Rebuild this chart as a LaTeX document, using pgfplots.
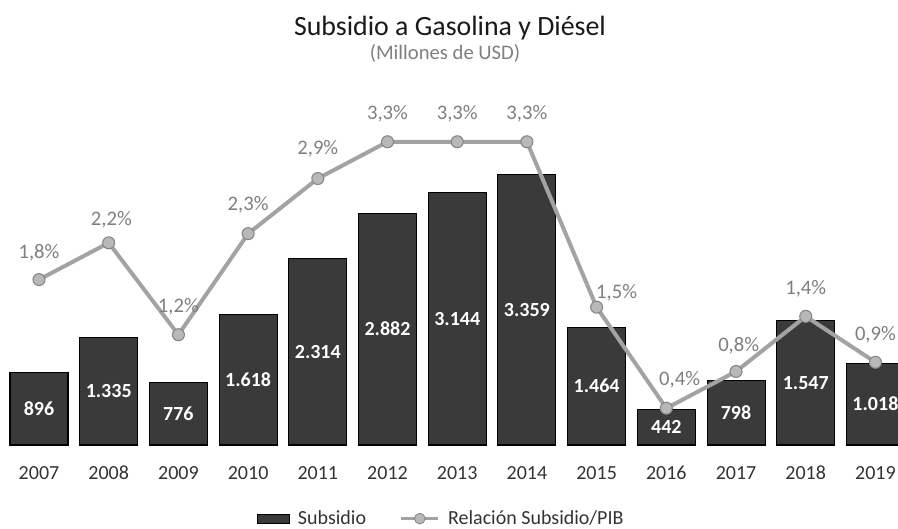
\documentclass[border=0pt]{standalone}
\usepackage{pgfplots}
\pgfplotsset{compat=1.18}
\usepackage{pgfplotstable}
\usepackage{fontspec}
\setmainfont{Carlito}
\definecolor{barc}{HTML}{3A3A3A}
\definecolor{linec}{HTML}{A3A3A3}
\definecolor{markc}{HTML}{B8B8B8}
\definecolor{markd}{HTML}{858585}
\definecolor{pctc}{HTML}{7F7F7F}
\definecolor{tickc}{HTML}{333333}

\pgfplotstableread{
x v lab
0 896 896
1 1335 1.335
2 776 776
3 1618 1.618
4 2314 2.314
5 2882 2.882
6 3144 3.144
7 3359 3.359
8 1464 1.464
9 442 442
10 798 798
11 1547 1.547
12 1018 1.018
}\bars

\pgfplotstableread{
x p lab dx dy
0 1.8 {1,8\%} 0 20
1 2.2 {2,2\%} 2 17
2 1.2 {1,2\%} 0 21
3 2.3 {2,3\%} 0 22
4 2.9 {2,9\%} 0 22
5 3.3 {3,3\%} 0 21
6 3.3 {3,3\%} 0 21
7 3.3 {3,3\%} 0 21
8 1.5 {1,5\%} 15 11
9 0.4 {0,4\%} 10 21
10 0.8 {0,8\%} 2 19
11 1.4 {1,4\%} 0 21
12 0.9 {0,9\%} 0 21
}\pct

\begin{document}
\begin{tikzpicture}
\pgfplotsset{
  common/.style={
    scale only axis,
    width=679.6pt, height=241.2pt,
    at={(3.11pt,62.25pt)}, anchor=south west,
    xmin=-0.5, xmax=12.5,
    clip=false,
  }
}
\begin{axis}[
  common,
  ymin=0, ymax=4000,
  axis line style={draw=none},
  ymajorticks=false,
  xtick={0,...,12},
  xticklabels={2007,2008,2009,2010,2011,2012,2013,2014,2015,2016,2017,2018,2019},
  major tick length=0pt,
  xticklabel style={anchor=base, yshift=-25.5pt, font=\fontsize{15}{15}\selectfont, text=tickc},
]
\addplot[ybar, bar width=43.5pt, fill=barc, draw=black, line width=0.8pt] table[x=x, y=v] {\bars};
\addplot[draw=none, mark=none, nodes near coords, point meta=explicit symbolic,
  every node near coord/.append style={anchor=center, font=\bfseries\fontsize{15}{15}\selectfont, text=white}]
  table[x=x, y expr=\thisrow{v}/2, meta=lab] {\bars};
\end{axis}
\begin{axis}[
  common,
  ymin=0, ymax=3.5,
  hide axis,
  legend columns=2,
  legend style={draw=none, fill=none, at={(axis description cs:0.483,-0.229)}, anchor=center,
    font=\fontsize{15}{15}\selectfont, text=tickc,
    /tikz/every odd column/.append style={column sep=4pt},
    /tikz/every even column/.append style={column sep=23pt}},
]
\addlegendimage{legend image code/.code={\draw[fill=barc, draw=black] (0pt,-3.5pt) rectangle (24pt,3.5pt);}}
\addlegendentry{Subsidio}
\addplot[linec, line width=3pt, mark=*, mark size=4.5pt,
  mark options={fill=markc, draw=markd, line width=0.8pt},
  nodes near coords, point meta=explicit symbolic,
  visualization depends on={\thisrow{dx}\as\dx},
  visualization depends on={\thisrow{dy}\as\dy},
  every node near coord/.append style={anchor=center, font=\fontsize{15.5}{15.5}\selectfont, text=pctc, xshift=\dx*1pt, yshift=\dy*1pt},
  legend image code/.code={\draw[linec, line width=2.5pt] (0pt,0pt) -- (28pt,0pt); \draw[fill=markc, draw=markd, line width=0.6pt] (14pt,0pt) circle (4pt);}
] table[x=x, y=p, meta=lab] {\pct};
\addlegendentry{Relación Subsidio/PIB}
\end{axis}
\node[anchor=base, font=\fontsize{20.9}{24}\selectfont, text=black!90] at (337.5pt,369pt) {Subsidio a Gasolina y Diésel};
\node[anchor=base, font=\fontsize{15.5}{17}\selectfont, text=pctc] at (333.75pt,351pt) {(Millones de USD)};
\pgfresetboundingbox
\path[use as bounding box] (0pt,0pt) rectangle (673.5pt,396pt);
\end{tikzpicture}
\end{document}
